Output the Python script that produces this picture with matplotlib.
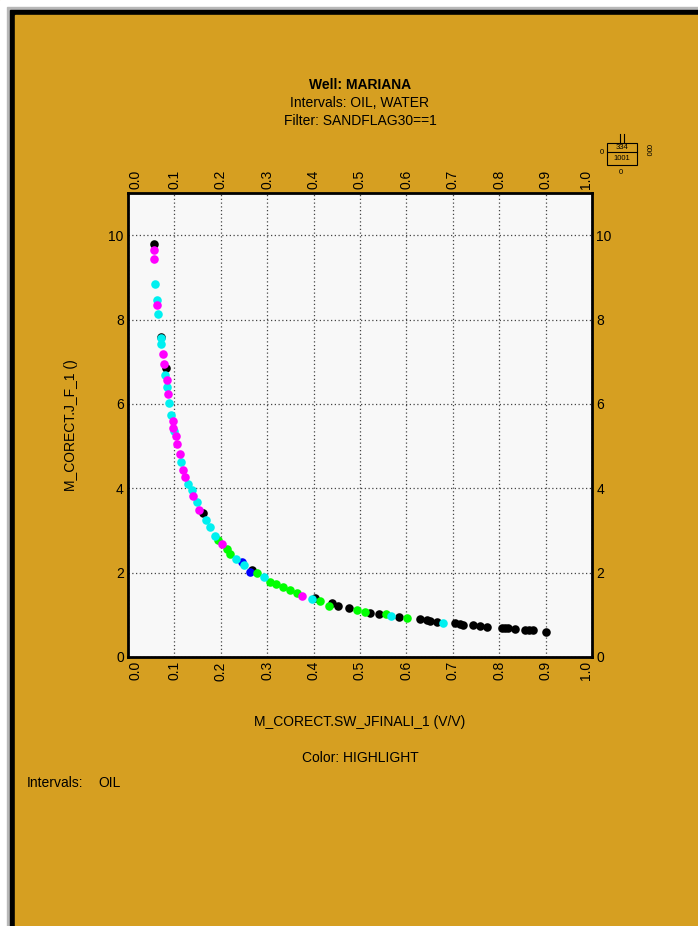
import matplotlib
matplotlib.use("Agg")
import matplotlib.pyplot as plt
from matplotlib.patches import Rectangle
from matplotlib.transforms import ScaledTranslation
import numpy as np

plt.rcParams['font.family'] = ['Liberation Sans', 'DejaVu Sans']

# Sw (V/V) and J-function values, grouped by highlight colour
black_sw = [0.055, 0.071, 0.081, 0.161, 0.267, 0.404, 0.439, 0.453, 0.477, 0.522,
            0.541, 0.585, 0.629, 0.644, 0.651, 0.665, 0.705, 0.715, 0.723, 0.744,
            0.759, 0.773, 0.805, 0.812, 0.820, 0.834, 0.856, 0.865, 0.873, 0.900]
black_j = [9.79, 7.58, 6.86, 3.41, 2.07, 1.39, 1.27, 1.21, 1.15, 1.05,
           1.02, 0.94, 0.90, 0.87, 0.85, 0.83, 0.80, 0.79, 0.77, 0.76,
           0.73, 0.72, 0.68, 0.68, 0.68, 0.67, 0.65, 0.65, 0.65, 0.60]

blue_sw = [0.245, 0.262]
blue_j = [2.25, 2.02]

green_sw = [0.195, 0.213, 0.220, 0.277, 0.306, 0.320, 0.335, 0.349, 0.364, 0.414,
            0.434, 0.493, 0.511, 0.556, 0.601]
green_j = [2.77, 2.57, 2.45, 1.98, 1.78, 1.73, 1.66, 1.58, 1.51, 1.33,
           1.21, 1.11, 1.06, 1.02, 0.93]

cyan_sw = [0.059, 0.0625, 0.0654, 0.0704, 0.072, 0.079, 0.083, 0.089, 0.093, 0.099,
           0.115, 0.130, 0.137, 0.148, 0.168, 0.177, 0.1875, 0.233, 0.25, 0.293,
           0.396, 0.566, 0.678]
cyan_j = [8.85, 8.46, 8.14, 7.56, 7.42, 6.69, 6.39, 6.01, 5.74, 5.36,
          4.62, 4.11, 3.96, 3.67, 3.24, 3.08, 2.88, 2.33, 2.17, 1.90,
          1.37, 0.97, 0.81]

magenta_sw = [0.055, 0.055, 0.0625, 0.076, 0.077, 0.083, 0.086, 0.096, 0.098, 0.103,
              0.106, 0.112, 0.119, 0.123, 0.141, 0.154, 0.202, 0.376]
magenta_j = [9.64, 9.43, 8.34, 7.19, 6.94, 6.56, 6.23, 5.60, 5.44, 5.25,
             5.04, 4.82, 4.44, 4.26, 3.81, 3.49, 2.69, 1.45]

x_ticks = np.round(np.arange(0, 1.01, 0.1), 1)
y_ticks = [0, 2, 4, 6, 8, 10]

GOLD = '#D69F21'
W, H = 698, 926

fig = plt.figure(figsize=(W / 100, H / 100), dpi=100)

# page background in pixel coordinates
bg = fig.add_axes([0, 0, 1, 1])
bg.set_xlim(0, W)
bg.set_ylim(H, 0)
bg.axis('off')
bg.add_patch(Rectangle((0, 0), W, H, color='white'))
bg.add_patch(Rectangle((7, 7), W, H, color='#b8b8b8'))
bg.add_patch(Rectangle((10, 10), W, H, color='black'))
bg.add_patch(Rectangle((15, 15), W, H, color=GOLD))

fs = 10
bg.text(360, 85, 'Well: MARIANA', ha='center', va='center', fontsize=fs, fontweight='bold')
bg.text(360, 103, 'Intervals: OIL, WATER', ha='center', va='center', fontsize=fs)
bg.text(360, 121, 'Filter: SANDFLAG30==1', ha='center', va='center', fontsize=fs)
bg.text(360, 722, 'M_CORECT.SW_JFINALI_1 (V/V)', ha='center', va='center', fontsize=fs)
bg.text(360, 758, 'Color: HIGHLIGHT', ha='center', va='center', fontsize=fs)
bg.text(27, 783, 'Intervals:', ha='left', va='center', fontsize=fs)
bg.text(98, 783, 'OIL', ha='left', va='center', fontsize=fs)
bg.text(71, 425, 'M_CORECT.J_F_1 ()', ha='center', va='center', fontsize=fs, rotation=90)

# small count box in the corner
bg.add_patch(Rectangle((607, 143), 30, 22, fill=False, ec='black', lw=0.8))
bg.plot([607, 637], [152, 152], color='black', lw=0.8)
bg.plot([619.5, 619.5], [134, 143], color='black', lw=0.8)
bg.plot([623.5, 623.5], [134, 143], color='black', lw=0.8)
bg.text(622, 147.8, '334', ha='center', va='center', fontsize=5.5)
bg.text(622, 158.8, '1001', ha='center', va='center', fontsize=5.5)
bg.text(602, 152, '0', ha='center', va='center', fontsize=5.5)
bg.text(647, 150, '000', ha='center', va='center', fontsize=5.5, rotation=-90)
bg.text(621, 173, '0', ha='center', va='center', fontsize=5.5)

ax = fig.add_axes([128 / W, 1 - 657 / H, 464 / W, 464 / H])
ax.set_facecolor('#F8F8F8')
ax.set_xlim(0, 1)
ax.set_ylim(0, 11)
ax.set_xticks(x_ticks)
ax.set_xticklabels([f'{v:.1f}' for v in x_ticks])
ax.set_yticks(y_ticks)
ax.set_yticklabels([str(v) for v in y_ticks])
ax.tick_params(axis='both', which='both', length=0, labelsize=fs,
               top=True, labeltop=True, right=True, labelright=True)
ax.tick_params(axis='x', pad=3, labelrotation=90)
ax.tick_params(axis='y', pad=3)
ax.grid(True, linestyle=(0, (1, 2)), color='#444444', linewidth=0.9)
ax.set_axisbelow(True)
for sp in ax.spines.values():
    sp.set_linewidth(2)
    sp.set_color('black')

# nudge the end labels inward so they clear the corner labels
shift_in = ScaledTranslation(8 / 100, 0, fig.dpi_scale_trans)
shift_out = ScaledTranslation(-6 / 100, 0, fig.dpi_scale_trans)
xt = ax.xaxis.get_major_ticks()
for lab in (xt[0].label1, xt[0].label2):
    lab.set_transform(lab.get_transform() + shift_in)
for lab in (xt[-1].label1, xt[-1].label2):
    lab.set_transform(lab.get_transform() + shift_out)

ms = 38
ax.scatter(black_sw, black_j, s=ms, c='black', lw=0, zorder=3)
ax.scatter(blue_sw, blue_j, s=ms, c='#0000FF', lw=0, zorder=3)
ax.scatter(green_sw, green_j, s=ms, c='#00FF00', lw=0, zorder=3)
ax.scatter(cyan_sw, cyan_j, s=ms, c='#00F0F0', lw=0, zorder=3)
ax.scatter(magenta_sw, magenta_j, s=ms, c='#FF00FF', lw=0, zorder=3)

fig.savefig('out.png', dpi=100, facecolor=GOLD)
